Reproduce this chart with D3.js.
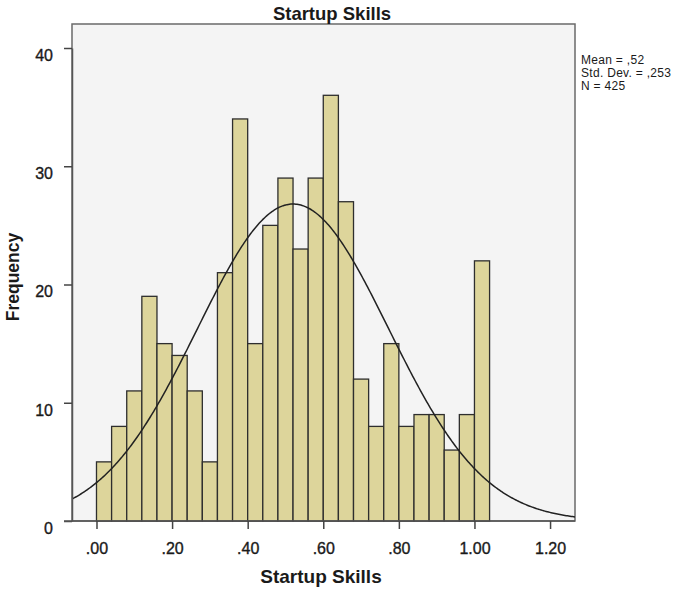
<!DOCTYPE html>
<html><head><meta charset="utf-8">
<script src="https://cdn.jsdelivr.net/npm/d3@7"></script>
<style>
html,body{margin:0;padding:0;background:#fff;}
svg{display:block;font-family:"Liberation Sans",Arial,sans-serif;}
</style></head>
<body>
<svg id="chart" width="689" height="596"></svg>
<script>
// Data
const binStarts = [0.00,0.04,0.08,0.12,0.16,0.20,0.24,0.28,0.32,0.36,0.40,0.44,0.48,0.52,0.56,0.60,0.64,0.68,0.72,0.76,0.80,0.84,0.88,0.92,0.96,1.00];
const binWidth = 0.04;
const frequencies = [5,8,11,19,15,14,11,5,21,34,15,25,29,23,29,36,27,12,8,15,8,9,9,6,9,22];
const xTickValues = [0,0.2,0.4,0.6,0.8,1.0,1.2];
const xTickLabels = [".00",".20",".40",".60",".80","1.00","1.20"];
const yTickValues = [0,10,20,30,40];
const statLines = ["Mean = ,52","Std. Dev. = ,253","N = 425"];
const stats = {mean:0.52, sd:0.253, n:425};

const svg = d3.select("#chart");
const L = 72, R = 575, T = 24, B = 521;
const x = d3.scaleLinear().domain([-0.0648, 1.266]).range([L, R]);
const y = d3.scaleLinear().domain([0, 40]).range([B, B - 4*118.25]);

// plot background
svg.append("rect").attr("x", L).attr("y", T).attr("width", R-L).attr("height", B-T)
  .attr("fill", "#f4f4f4").attr("stroke", "#6a6a6a").attr("stroke-width", 1.5);

// bars
svg.append("g").selectAll("rect").data(frequencies).join("rect")
  .attr("x", (d,i) => x(binStarts[i]))
  .attr("width", (d,i) => x(binStarts[i]+binWidth) - x(binStarts[i]))
  .attr("y", d => y(d))
  .attr("height", d => y(0) - y(d))
  .attr("fill", "#ddd59b")
  .attr("stroke", "#2e2e2e")
  .attr("stroke-width", 1.3);

// normal curve
const clipId = "plotclip";
svg.append("clipPath").attr("id", clipId).append("rect")
  .attr("x", L).attr("y", T).attr("width", R-L).attr("height", B-T);
const xs = d3.range(0, 401).map(i => x.domain()[0] + (x.domain()[1]-x.domain()[0])*i/400);
const pdf = v => Math.exp(-0.5*Math.pow((v-stats.mean)/stats.sd,2)) / (stats.sd*Math.sqrt(2*Math.PI));
svg.append("path")
  .datum(xs)
  .attr("clip-path", `url(#${clipId})`)
  .attr("fill", "none").attr("stroke", "#222").attr("stroke-width", 1.5)
  .attr("d", d3.line().x(v => x(v)).y(v => y(stats.n*binWidth*pdf(v))));

// y axis
const yAxis = d3.axisLeft(y).tickValues(yTickValues).tickSize(8).tickPadding(11).tickSizeOuter(0);
const gy = svg.append("g").attr("transform", `translate(${L},0)`).call(yAxis);
gy.select(".domain").attr("stroke", "#555").attr("stroke-width", 1.5);
gy.selectAll(".tick line").attr("stroke", "#444").attr("stroke-width", 1.5);
gy.selectAll(".tick text").attr("font-size", 16).attr("fill", "#1a1a1a")
  .attr("stroke", "#1a1a1a").attr("stroke-width", 0.35)
  .attr("font-family", "'Liberation Sans',Arial,sans-serif").attr("dy", "0.78em");

// x axis
const xAxis = d3.axisBottom(x).tickValues(xTickValues)
  .tickFormat((d,i) => xTickLabels[i]).tickSize(8).tickPadding(14).tickSizeOuter(0);
const gx = svg.append("g").attr("transform", `translate(0,${B})`).call(xAxis);
gx.select(".domain").attr("stroke", "#555").attr("stroke-width", 1.5)
  .attr("d", `M${L-8},0H${R}`);
gx.selectAll(".tick line").attr("stroke", "#444").attr("stroke-width", 1.5);
gx.selectAll(".tick text").attr("font-size", 16).attr("fill", "#1a1a1a")
  .attr("stroke", "#1a1a1a").attr("stroke-width", 0.35)
  .attr("font-family", "'Liberation Sans',Arial,sans-serif");

// titles
svg.append("text").attr("x", 332).attr("y", 20).attr("text-anchor", "middle")
  .attr("font-size", 18.5).attr("font-weight", "bold").attr("fill", "#1a1a1a").text("Startup Skills");
svg.append("text").attr("x", 321).attr("y", 583).attr("text-anchor", "middle")
  .attr("font-size", 19).attr("font-weight", "bold").attr("fill", "#1a1a1a").text("Startup Skills");
svg.append("text").attr("transform", "translate(19,277) rotate(-90)").attr("text-anchor", "middle")
  .attr("font-size", 17.5).attr("font-weight", "bold").attr("fill", "#1a1a1a").text("Frequency");

// stats legend
svg.append("g").selectAll("text").data(statLines).join("text")
  .attr("x", 581).attr("y", (d,i) => 64 + i*13)
  .attr("font-size", 12).attr("letter-spacing", 0.3).attr("fill", "#1a1a1a").text(d => d);
</script>
</body></html>
